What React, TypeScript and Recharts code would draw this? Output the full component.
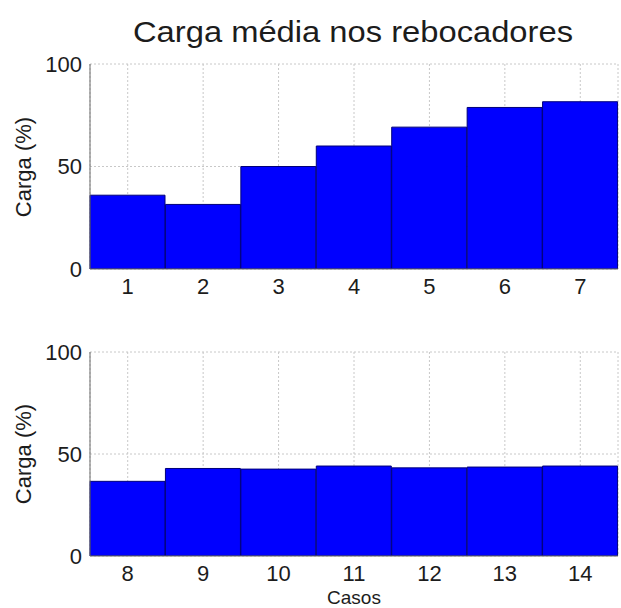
import React from 'react';
import { BarChart, Bar, XAxis, YAxis, CartesianGrid } from 'recharts';

const casesTop = ['1', '2', '3', '4', '5', '6', '7'];
const loadTop = [36, 31.5, 50, 60, 69.2, 78.8, 81.6];
const casesBottom = ['8', '9', '10', '11', '12', '13', '14'];
const loadBottom = [36.6, 42.9, 42.6, 44.1, 43.2, 43.6, 44.1];
const yTicks = [0, 50, 100];

const titleText = 'Carga média nos rebocadores';
const yLabelText = 'Carga (%)';
const xLabelText = 'Casos';

const dataTop = casesTop.map((c, i) => ({ caso: c, carga: loadTop[i] }));
const dataBottom = casesBottom.map((c, i) => ({ caso: c, carga: loadBottom[i] }));

const FONT = '"Liberation Sans", Arial, Helvetica, sans-serif';
const TEXT = '#1c1c1c';
const BORDER = '#6a6a6a';

type PanelProps = {
  data: { caso: string; carga: number }[];
  height: number;
  marginTop: number;
  xAxisHeight: number;
};

function Panel({ data, height, marginTop, xAxisHeight }: PanelProps) {
  return (
    <BarChart
      width={621}
      height={height}
      data={data}
      margin={{ top: marginTop, right: 3, left: 0, bottom: 0 }}
      barCategoryGap={0}
      barGap={0}
    >
      <CartesianGrid stroke="#c8c8c8" strokeDasharray="2 2" vertical horizontal />
      <XAxis
        dataKey="caso"
        height={xAxisHeight}
        tickLine={false}
        tickSize={0}
        tickMargin={9}
        axisLine={{ stroke: BORDER }}
        tick={{ fontSize: 22, fill: TEXT, fontFamily: FONT }}
        interval={0}
      />
      <XAxis
        xAxisId="top"
        orientation="top"
        dataKey="caso"
        height={0}
        tick={false}
        tickLine={false}
        axisLine={{ stroke: BORDER }}
      />
      <YAxis
        domain={[0, 100]}
        ticks={yTicks}
        width={90}
        tickLine={false}
        tickSize={0}
        tickMargin={8}
        axisLine={{ stroke: BORDER }}
        tick={{ fontSize: 22, fill: TEXT, fontFamily: FONT }}
        allowDataOverflow
      />
      <YAxis
        yAxisId="right"
        orientation="right"
        domain={[0, 100]}
        width={0}
        tick={false}
        tickLine={false}
        axisLine={{ stroke: BORDER }}
      />
      <Bar
        dataKey="carga"
        fill="#0000FF"
        stroke="#00007a"
        strokeWidth={1}
        isAnimationActive={false}
      />
    </BarChart>
  );
}

export default function App() {
  return (
    <div
      style={{
        position: 'absolute',
        left: 0,
        top: 0,
        width: 621,
        height: 608,
        background: '#ffffff',
        overflow: 'hidden',
      }}
    >
      <div style={{ position: 'absolute', left: 0, top: 0 }}>
        <Panel data={dataTop} height={310} marginTop={64} xAxisHeight={41} />
      </div>
      <div style={{ position: 'absolute', left: 0, top: 310 }}>
        <Panel data={dataBottom} height={298} marginTop={42} xAxisHeight={52} />
      </div>
      <svg
        width={621}
        height={608}
        style={{ position: 'absolute', left: 0, top: 0, pointerEvents: 'none' }}
      >
        <text
          x={353}
          y={42}
          textAnchor="middle"
          fontSize={29}
          fontFamily={FONT}
          fill={TEXT}
          textLength={440}
          lengthAdjust="spacingAndGlyphs"
        >
          {titleText}
        </text>
        <text
          x={0}
          y={0}
          transform="translate(31,167) rotate(-90)"
          textAnchor="middle"
          fontSize={22}
          fontFamily={FONT}
          fill={TEXT}
        >
          {yLabelText}
        </text>
        <text
          x={0}
          y={0}
          transform="translate(31,454) rotate(-90)"
          textAnchor="middle"
          fontSize={22}
          fontFamily={FONT}
          fill={TEXT}
        >
          {yLabelText}
        </text>
        <text
          x={354}
          y={604}
          textAnchor="middle"
          fontSize={19}
          fontFamily={FONT}
          fill={TEXT}
        >
          {xLabelText}
        </text>
      </svg>
    </div>
  );
}
